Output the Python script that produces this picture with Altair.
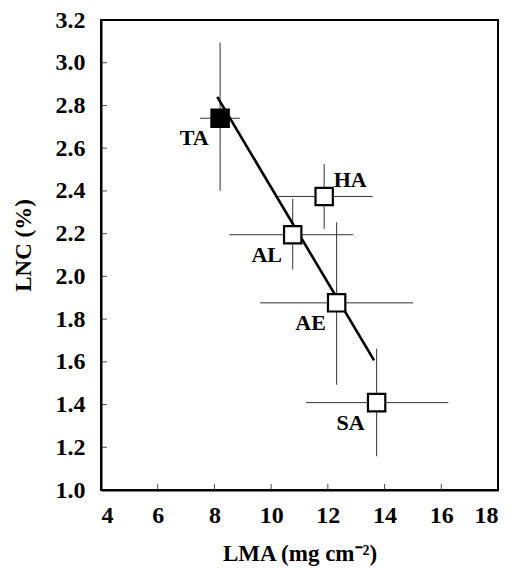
import altair as alt
import pandas as pd

# ---- data ----
names = ["TA", "HA", "AL", "AE", "SA"]
lma = [8.20, 11.87, 10.76, 12.31, 13.72]
lnc = [2.74, 2.374, 2.195, 1.876, 1.409]
lma_lo = [7.50, 10.25, 8.52, 9.61, 11.23]
lma_hi = [8.90, 13.58, 12.90, 15.01, 16.25]
lnc_lo = [2.40, 2.222, 2.032, 1.493, 1.158]
lnc_hi = [3.094, 2.526, 2.362, 2.253, 1.661]

fit_x = [8.10, 13.63]
fit_y = [2.84, 1.607]

x_ticks = [4, 6, 8, 10, 12, 14, 16, 18]
y_ticks = [1.0, 1.2, 1.4, 1.6, 1.8, 2.0, 2.2, 2.4, 2.6, 2.8, 3.0, 3.2]

df = pd.DataFrame({"name": names, "lma": lma, "lnc": lnc,
                   "lma_lo": lma_lo, "lma_hi": lma_hi,
                   "lnc_lo": lnc_lo, "lnc_hi": lnc_hi})
fit = pd.DataFrame({"lma": fit_x, "lnc": fit_y})
xt = pd.DataFrame({"v": x_ticks})
yt = pd.DataFrame({"v": y_ticks})

FONT = "Liberation Serif"
W, H = 397, 470

xscale = alt.Scale(domain=[4, 18], nice=False, zero=False)
yscale = alt.Scale(domain=[1.0, 3.2], nice=False, zero=False)

xaxis = alt.Axis(values=x_ticks, title="LMA (mg cm⁻²)", grid=False, ticks=False,
                 labelPadding=13, titlePadding=15)
yaxis = alt.Axis(values=y_ticks, format=".1f", title="LNC (%)", grid=False, ticks=False,
                 labelPadding=16, titlePadding=20, titleY=225)

X = alt.X("lma:Q", scale=xscale, axis=xaxis)
Y = alt.Y("lnc:Q", scale=yscale, axis=yaxis)

base = alt.Chart(df)

hbars = base.mark_rule(color="#333333", strokeWidth=1).encode(
    x=alt.X("lma_lo:Q", scale=xscale, axis=xaxis), x2="lma_hi:Q", y=Y)
vbars = base.mark_rule(color="#333333", strokeWidth=1).encode(
    x=X, y=alt.Y("lnc_lo:Q", scale=yscale, axis=yaxis), y2="lnc_hi:Q")

line = alt.Chart(fit).mark_line(color="black", strokeWidth=2.6).encode(x=X, y=Y)

points = base.mark_point(shape="square", size=300, strokeWidth=2.2, opacity=1,
                         stroke="black", filled=False).encode(
    x=X, y=Y,
    fill=alt.condition(alt.datum.name == "TA", alt.value("black"), alt.value("white")))

lab_left = base.transform_filter(alt.datum.name != "HA").mark_text(
    font=FONT, fontSize=22, fontWeight="bold", dx=-26, dy=20, color="black").encode(
    x=X, y=Y, text="name:N")
lab_right = base.transform_filter(alt.datum.name == "HA").mark_text(
    font=FONT, fontSize=22, fontWeight="bold", dx=26, dy=-16, color="black").encode(
    x=X, y=Y, text="name:N")

xticks = alt.Chart(xt).mark_tick(orient="vertical", size=12, thickness=1,
                                 color="black", clip=True).encode(
    x=alt.X("v:Q", scale=xscale, axis=xaxis), y=alt.value(H))
yticks = alt.Chart(yt).mark_tick(orient="horizontal", size=12, thickness=1,
                                 color="black", clip=True).encode(
    y=alt.Y("v:Q", scale=yscale, axis=yaxis), x=alt.value(0))

chart = alt.layer(hbars, vbars, line, points, lab_left, lab_right, xticks, yticks).properties(
    width=W, height=H,
    autosize=alt.AutoSizeParams(type="none"),
    padding={"left": 93, "top": 12, "right": 5, "bottom": 80},
).configure_view(
    stroke="black", strokeWidth=2
).configure_axis(
    domainColor="black", domainWidth=2,
    labelFont=FONT, labelFontSize=24, labelFontWeight="bold", labelColor="black",
    titleFont=FONT, titleFontSize=23, titleFontWeight="bold", titleColor="black",
)

chart.save("out.html", embed_options={"renderer": "svg", "actions": False})
